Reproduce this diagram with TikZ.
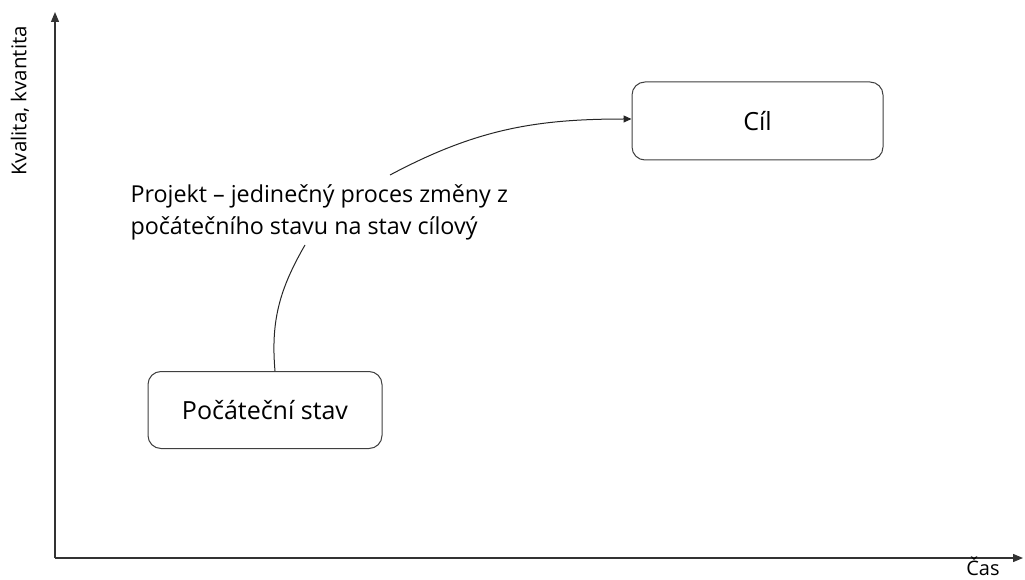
\documentclass[tikz,border=0pt]{standalone}
\usepackage{fontspec}
\setmainfont{Open Sans}
\usetikzlibrary{arrows.meta}
\begin{document}
\begin{tikzpicture}[x=1pt,y=-1pt,
  box/.style={draw=black!75,line width=1pt,rounded corners=13pt,fill=white,inner sep=0pt},
  axis/.style={draw=black!80,line width=1.2pt,-{Triangle[length=10pt,width=8pt]}},
  conn/.style={draw=black!85,line width=1pt},
  lbl/.style={font=\fontsize{23.3}{32}\selectfont,text=black},
  boxlbl/.style={font=\fontsize{25}{30}\selectfont,text=black}]
\useasboundingbox (0,0) rectangle (1025,580);
\coordinate (o) at (55,558);
\coordinate (ytop) at (55,12);
\coordinate (xend) at (1023,558);
\draw[axis] (o) -- (ytop);
\draw[axis] (o) -- (xend);
\node[rotate=90,font=\fontsize{20.5}{22}\selectfont,text=black] (ylab) at (20,101) {Kvalita, kvantita};
\node[font=\fontsize{20}{22}\selectfont,text=black,inner sep=1pt] (xlab) at (983,566) {Čas};
\node[box,minimum width=234pt,minimum height=77pt,boxlbl] (start) at (265,410) {Počáteční stav};
\node[box,minimum width=251pt,minimum height=78pt,boxlbl] (goal) at (757.5,121) {Cíl};
\node[lbl,align=left,anchor=west] (proj) at (127,212) {Projekt -- jedinečný proces změny z\\počátečního stavu na stav cílový};
\coordinate (c1) at (305,245);
\coordinate (c2) at (390,175);
\draw[conn] (start.north -| 275,0) to[out=95,in=240] (c1);
\draw[conn,-{Triangle[length=8pt,width=7pt]}] (c2) to[out=28,in=180] (goal.west |- 0,119);
\end{tikzpicture}
\end{document}
